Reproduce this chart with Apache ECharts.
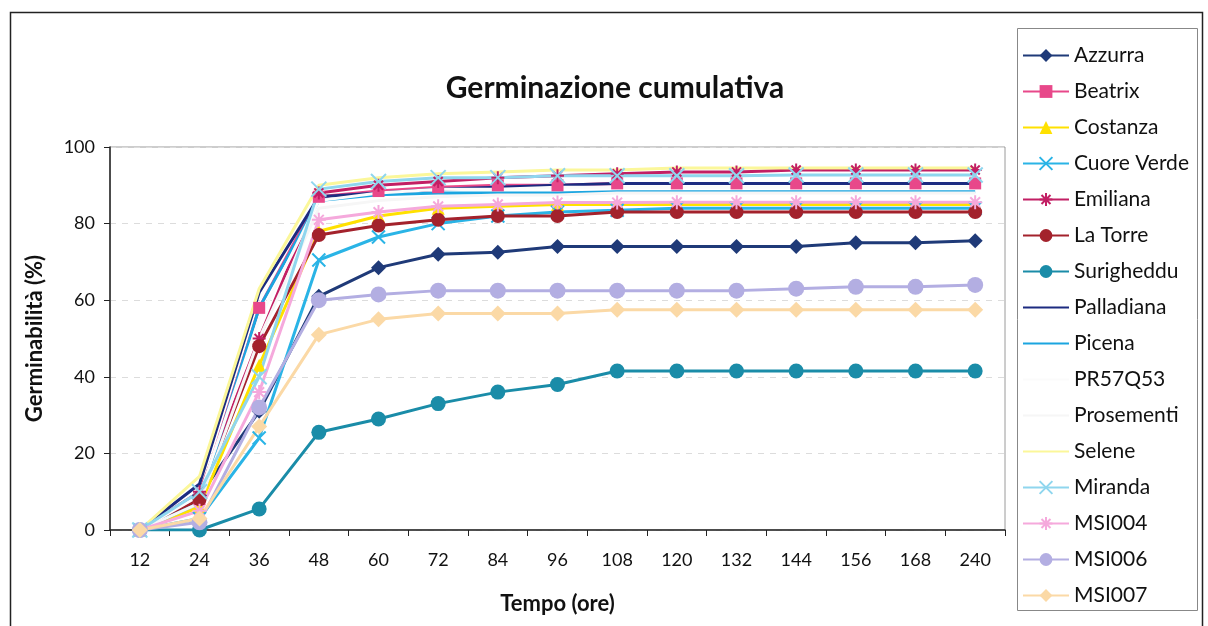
<!DOCTYPE html>
<html>
<head>
<meta charset="utf-8">
<script src="https://cdn.jsdelivr.net/npm/echarts@6/dist/echarts.min.js"></script>
<style>
  html, body { margin: 0; padding: 0; background: #fff; }
  #chart { width: 1208px; height: 626px; }
</style>
</head>
<body>
<div id="chart"></div>
<script>
// Time points (hours)
const categories = ['12', '24', '36', '48', '60', '72', '84', '96', '108', '120', '132', '144', '156', '168', '240'];

// Cumulative germination (%) per variety
const azzurra    = [0, 9, 31, 61, 68.5, 72, 72.5, 74, 74, 74, 74, 74, 75, 75, 75.5];
const beatrix    = [0, 8, 58, 87, 88.5, 89.5, 90, 90, 90.5, 90.5, 90.5, 90.5, 90.5, 90.5, 90.5];
const costanza   = [0, 6, 43, 78, 82, 84, 84.5, 85, 85, 85, 85, 85, 85, 85, 85];
const cuoreVerde = [0, 3, 24, 70.5, 76.5, 80, 82, 83, 83.5, 84, 84, 84, 84, 84, 84];
const emiliana   = [0, 10, 50, 88, 90, 91, 92, 92.5, 93, 93.5, 93.5, 94, 94, 94, 94];
const laTorre    = [0, 8, 48, 77, 79.5, 81, 82, 82, 83, 83, 83, 83, 83, 83, 83];
const surigheddu = [0, 0, 5.5, 25.5, 29, 33, 36, 38, 41.5, 41.5, 41.5, 41.5, 41.5, 41.5, 41.5];
const palladiana = [0, 12, 62, 87, 88, 89, 89.5, 90, 90.5, 90.5, 90.5, 90.5, 90.5, 90.5, 90.5];
const picena     = [0, 7, 58, 86, 87.5, 88, 88, 88, 88.3, 88.3, 88.3, 88.3, 88.3, 88.3, 88.3];
const pr57q53    = [0, 9, 55, 86, 88, 89, 89, 89.5, 89.5, 89.5, 89.5, 89.5, 89.5, 89.5, 89.5];
const prosemente = [0, 7, 50, 84, 86, 87, 87.5, 87.5, 88, 88, 88, 88, 88, 88, 88];
const selene     = [0, 14, 63, 90, 92, 93, 93.5, 94, 94, 94.5, 94.5, 94.5, 94.5, 94.5, 94.5];
const miranda    = [0, 10, 40, 89, 91, 92, 92, 92.5, 92.5, 92.5, 92.5, 92.7, 92.7, 92.7, 92.7];
const msi004     = [0, 5, 36, 81, 83, 84.5, 85, 85.5, 85.5, 85.6, 85.6, 85.6, 85.6, 85.6, 85.6];
const msi006     = [0, 2, 32, 60, 61.5, 62.5, 62.5, 62.5, 62.5, 62.5, 62.5, 63, 63.5, 63.5, 64];
const msi007     = [0, 3, 27, 51, 55, 56.5, 56.5, 56.5, 57.5, 57.5, 57.5, 57.5, 57.5, 57.5, 57.5];

const yTicks = [0, 20, 40, 60, 80, 100];

const FONT = 'Lato';
const X_MARK = 'path://M0,0 L10,10 M10,0 L0,10';
const STAR_MARK = 'path://M5,0 L5,10 M0,5 L10,5 M1.5,1.5 L8.5,8.5 M8.5,1.5 L1.5,8.5';

function line(name, data, color, symbol, size, stroked) {
  const noMarker = symbol === 'none';
  return {
    name: name,
    type: 'line',
    data: data,
    symbol: noMarker ? 'circle' : symbol,
    symbolSize: noMarker ? 0 : size,
    showSymbol: !noMarker,
    lineStyle: { color: color, width: 3 },
    itemStyle: stroked
      ? { color: 'rgba(0,0,0,0)', borderColor: color, borderWidth: 2 }
      : { color: color, borderColor: color, borderWidth: 0 },
    emphasis: { disabled: true },
    animation: false,
    noMarker: noMarker
  };
}

const series = [
  line('Azzurra', azzurra, '#1f3a78', 'diamond', 15),
  line('Beatrix', beatrix, '#e8488a', 'rect', 12),
  line('Costanza', costanza, '#ffe100', 'triangle', 13),
  line('Cuore Verde', cuoreVerde, '#2ab4e6', X_MARK, 13, true),
  line('Emiliana', emiliana, '#c21f64', STAR_MARK, 13, true),
  line('La Torre', laTorre, '#a3222c', 'circle', 14),
  line('Surigheddu', surigheddu, '#1a8ca8', 'circle', 15),
  line('Palladiana', palladiana, '#1c2b80', 'none', 0),
  line('Picena', picena, '#1ba5e0', 'none', 0),
  line('PR57Q53', pr57q53, '#fbfbfb', 'none', 0),
  line('Prosementi', prosemente, '#f6f6f6', 'none', 0),
  line('Selene', selene, '#fbf79a', 'none', 0),
  line('Miranda', miranda, '#8fd6ee', X_MARK, 15, true),
  line('MSI004', msi004, '#f5a9dc', STAR_MARK, 14, true),
  line('MSI006', msi006, '#b3aee2', 'circle', 16),
  line('MSI007', msi007, '#fbd9a6', 'diamond', 16)
];

const legendData = series.map(s => s.noMarker
  ? { name: s.name, itemStyle: { opacity: 0 } }
  : { name: s.name });
series.forEach(s => { delete s.noMarker; });

const chart = echarts.init(document.getElementById('chart'), null, { renderer: 'canvas' });
chart.setOption({
  backgroundColor: '#ffffff',
  animation: false,
  textStyle: { fontFamily: FONT },
  grid: {
    left: 110, top: 147, width: 895, height: 383,
    show: true, borderColor: '#9a9a9a', borderWidth: 1, backgroundColor: 'transparent'
  },
  xAxis: {
    type: 'category',
    data: categories,
    boundaryGap: true,
    name: 'Tempo (ore)',
    nameLocation: 'middle',
    nameGap: 63,
    nameTextStyle: { fontFamily: FONT, fontWeight: 'bold', fontSize: 22, color: '#111' },
    axisLine: { show: true, lineStyle: { color: '#222', width: 1.5 } },
    axisTick: { show: true, interval: 0, length: 6, lineStyle: { color: '#222' } },
    axisLabel: { fontFamily: FONT, fontSize: 18, color: '#111', margin: 21, interval: 0 },
    splitLine: { show: false }
  },
  yAxis: {
    type: 'value',
    min: yTicks[0], max: yTicks[yTicks.length - 1], interval: 20,
    name: 'Germinabilità (%)',
    nameLocation: 'middle',
    nameGap: 64,
    nameRotate: 90,
    nameTextStyle: { fontFamily: FONT, fontWeight: 'bold', fontSize: 22, color: '#111' },
    axisLine: { show: true, lineStyle: { color: '#222', width: 1.5 } },
    axisTick: { show: true, length: 6, lineStyle: { color: '#222' } },
    axisLabel: { fontFamily: FONT, fontSize: 18, color: '#111', margin: 15 },
    splitLine: { show: true, lineStyle: { color: '#dcdcdc', type: [6, 6], width: 1 } }
  },
  legend: {
    orient: 'vertical',
    left: 1017, top: 40,
    itemWidth: 46, itemHeight: 16, itemGap: 15,
    textStyle: { fontFamily: FONT, fontSize: 21, color: '#111' },
    data: legendData
  },
  graphic: [
    { type: 'rect', shape: { x: 10.5, y: 12.5, width: 1192, height: 620 },
      style: { fill: 'none', stroke: '#222', lineWidth: 1.5 }, silent: true },
    { type: 'rect', shape: { x: 1017.5, y: 28.5, width: 180, height: 582 },
      style: { fill: 'none', stroke: '#888', lineWidth: 1 }, silent: true },
    { type: 'text', x: 615, y: 88,
      style: { text: 'Germinazione cumulativa', fontFamily: FONT, fontWeight: 'bold', fontSize: 30,
               fill: '#111', textAlign: 'center', textVerticalAlign: 'middle' }, silent: true }
  ],
  series: series
});
</script>
</body>
</html>
